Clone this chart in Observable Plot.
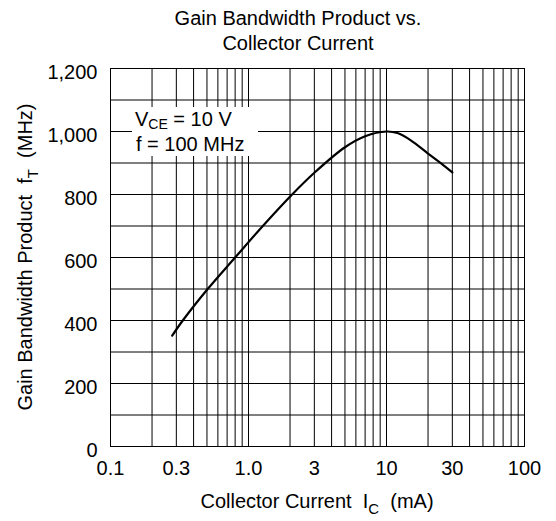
<!DOCTYPE html>
<html><head><meta charset="utf-8">
<script src="https://cdn.jsdelivr.net/npm/d3@7"></script>
<script src="https://cdn.jsdelivr.net/npm/@observablehq/plot@0.6"></script>
<style>
body{margin:0;background:#fff}
svg{font-family:"Liberation Sans",Arial,Helvetica,sans-serif}
</style>
</head><body><div id="chart"></div>
<script>
// Data
const current = [0.28, 0.334, 0.506, 0.8, 1.27, 2.07, 3, 5, 7, 10, 12, 15, 20, 25, 30]; // mA
const fT = [352, 400, 500, 600, 700, 800, 869, 950, 985, 1000, 995, 972, 930, 898, 870]; // MHz
const xTicks = [0.1, 0.3, 1, 3, 10, 30, 100];
const xTickLabels = ["0.1", "0.3", "1.0", "3", "10", "30", "100"];
const yTicks = [0, 200, 400, 600, 800, 1000, 1200];
const yGrid = d3.range(0, 1201, 100);
const xGrid = [0.1, 1, 10].flatMap(d => d3.range(1, 10).map(k => +(k * d).toPrecision(3))).concat([100]);

const data = current.map((x, i) => ({x, y: fT[i]}));
const xLabelData = xTicks.map((x, i) => ({x, label: xTickLabels[i]}));
const font = '"Liberation Sans",Arial,Helvetica,sans-serif';

const plot = Plot.plot({
  width: 556, height: 521,
  marginLeft: 110, marginRight: 32, marginTop: 68, marginBottom: 75,
  style: {fontFamily: font, fontSize: "20px", color: "#000", background: "#fff"},
  x: {type: "log", domain: [0.1, 100], label: null, axis: null},
  y: {domain: [0, 1200], label: null},
  marks: [
    Plot.ruleX(xGrid, {stroke: "#000", strokeWidth: 1}),
    Plot.ruleY(yGrid, {stroke: "#000", strokeWidth: 1}),
    Plot.frame({stroke: "#000", strokeWidth: 1}),
    Plot.line(data, {x: "x", y: "y", stroke: "#000", strokeWidth: 2.2, curve: "catmull-rom"}),
    Plot.text(xLabelData, {x: "x", text: "label", frameAnchor: "bottom", lineAnchor: "top",
      dy: 14, fontSize: 20, fill: "#000"}),
    Plot.axisY(yTicks, {tickSize: 0, tickPadding: 13, fontSize: 20, dy: 4,
      tickFormat: d3.format(","), label: null})
  ]
});
document.getElementById("chart").append(plot);

const svg = d3.select(plot);
const txt = (sel) => sel.attr("font-family", font).attr("font-size", 20).attr("fill", "#000");

// Title
txt(svg.append("text")).attr("x", 298).attr("y", 25).attr("text-anchor", "middle").text("Gain Bandwidth Product vs.");
txt(svg.append("text")).attr("x", 298).attr("y", 50).attr("text-anchor", "middle").text("Collector Current");

// X label with subscript
const xl = txt(svg.append("text")).attr("x", 317).attr("y", 508).attr("text-anchor", "middle");
xl.append("tspan").text("Collector Current\u00a0\u00a0I");
xl.append("tspan").attr("font-size", 15).attr("dy", 6).text("C");
xl.append("tspan").attr("dy", -6).text("\u00a0\u00a0(mA)");

// Y label with subscript
const yl = txt(svg.append("text")).attr("transform", "translate(32,257) rotate(-90)").attr("text-anchor", "middle");
yl.append("tspan").text("Gain Bandwidth Product\u00a0\u00a0f");
yl.append("tspan").attr("font-size", 15).attr("dy", 6).text("T");
yl.append("tspan").attr("dy", -6).text("\u00a0\u00a0(MHz)");

// Annotation box
const ann = svg.append("g").attr("text-anchor", "start");
ann.append("rect").attr("x", 132).attr("y", 107).attr("width", 126).attr("height", 49).attr("fill", "#fff");
const a1 = txt(ann.append("text")).attr("text-anchor", "start").attr("x", 135).attr("y", 126);
a1.append("tspan").text("V");
a1.append("tspan").attr("font-size", 14).attr("dy", 3).text("CE");
a1.append("tspan").attr("dy", -3).text(" = 10 V");
txt(ann.append("text")).attr("text-anchor", "start").attr("x", 136).attr("y", 151).text("f = 100 MHz");
</script>
</body></html>
